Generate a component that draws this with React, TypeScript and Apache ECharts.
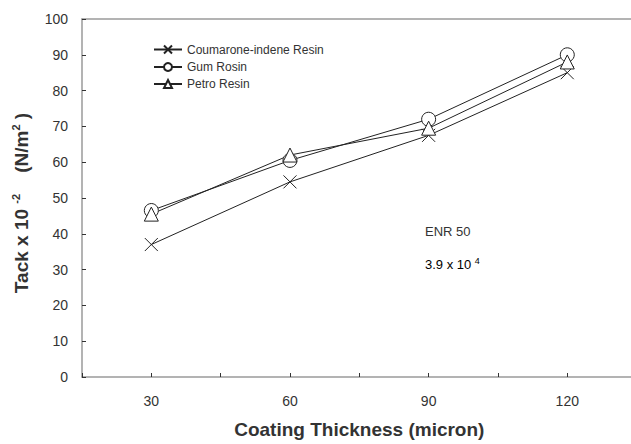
import React, { useEffect, useRef } from "react";
import * as echarts from "echarts";

const thickness = [30, 60, 90, 120];
const coumarone = [37, 54.5, 67.5, 85];
const gumRosin = [46.5, 60.5, 72, 90];
const petroResin = [45.5, 62, 69.5, 88];
const seriesNames = ["Coumarone-indene Resin", "Gum Rosin", "Petro Resin"];
const xLabelValues = [30, 60, 90, 120];

const FONT = "Liberation Sans, Arial, sans-serif";
const LINE = "#222";
const AXIS = "#9a9a9a";
const CHART_W = 700;

export default function App() {
  const ref = useRef<HTMLDivElement>(null);
  useEffect(() => {
    if (!ref.current) return;
    const chart = echarts.init(ref.current, undefined, { renderer: "svg" });
    const mk = (vals: number[]) => thickness.map((t, i) => [t, vals[i]]);
    const common = {
      type: "line",
      lineStyle: { color: LINE, width: 1 },
      itemStyle: { color: "#fff", borderColor: LINE, borderWidth: 1 },
      z: 3,
    };
    chart.setOption({
      animation: false,
      backgroundColor: "#fff",
      textStyle: { fontFamily: FONT },
      grid: {
        left: 82,
        top: 19,
        right: CHART_W - 636.6,
        bottom: 66,
        show: false,
      },
      legend: {
        orient: "vertical",
        left: 148,
        top: 38,
        itemWidth: 28,
        itemHeight: 10,
        itemGap: 5,
        textStyle: { fontSize: 12, color: "#333", fontFamily: FONT },
        data: seriesNames,
      },
      xAxis: [
        {
          type: "value",
          min: 15,
          max: 135,
          interval: 15,
          name: "Coating Thickness (micron)",
          nameLocation: "middle",
          nameGap: 43,
          nameTextStyle: { fontSize: 19, fontWeight: "bold", color: "#333", fontFamily: FONT },
          axisLine: { show: true, lineStyle: { color: AXIS, width: 1.5 } },
          axisTick: { show: true, inside: true, length: 4, lineStyle: { color: "#333" } },
          splitLine: { show: false },
          axisLabel: {
            fontSize: 14,
            color: "#333",
            margin: 17,
            fontFamily: FONT,
            formatter: (v: number) => (xLabelValues.includes(v) ? String(v) : ""),
          },
        },
        {
          type: "value",
          position: "top",
          min: 15,
          max: 135,
          interval: 15,
          axisLine: { show: true, onZero: false, lineStyle: { color: AXIS, width: 1.5 } },
          axisTick: { show: false },
          axisLabel: { show: false },
          splitLine: { show: false },
        },
      ],
      yAxis: {
        type: "value",
        min: 0,
        max: 100,
        interval: 10,
        name: "{b|Tack x 10 }{s|-2}{b|    (N/m}{s|2}{b| )}",
        nameLocation: "middle",
        nameRotate: 90,
        nameGap: 50,
        nameTextStyle: {
          color: "#333",
          padding: [0, 10, 0, 0],
          rich: {
            b: { fontSize: 19, fontWeight: "bold", color: "#333", fontFamily: FONT, lineHeight: 22 },
            s: { fontSize: 11, fontWeight: "bold", color: "#333", fontFamily: FONT, lineHeight: 11, verticalAlign: "top" },
          },
        },
        axisLine: { show: true, lineStyle: { color: AXIS, width: 1.5 } },
        axisTick: { show: true, inside: true, length: 4, lineStyle: { color: "#333" } },
        splitLine: { show: false },
        axisLabel: { fontSize: 14, color: "#333", margin: 14, fontFamily: FONT },
      },
      graphic: [
        {
          type: "text",
          left: 425,
          top: 225,
          style: { text: "ENR 50", fontSize: 13, fill: "#333", fontFamily: FONT },
        },
        {
          type: "text",
          left: 425,
          top: 256,
          style: {
            text: "{n|3.9 x 10 }{s|4}",
            fontFamily: FONT,
            rich: {
              n: { fontSize: 13, color: "#333", fontFamily: FONT, lineHeight: 16 },
              s: { fontSize: 9, color: "#333", fontFamily: FONT, lineHeight: 9, verticalAlign: "top" },
            },
          },
        },
      ],
      series: [
        {
          ...common,
          name: seriesNames[0],
          data: mk(coumarone),
          symbol: "path://M0,0L10,10M10,0L0,10",
          symbolSize: 13,
          itemStyle: { color: "none", borderColor: LINE, borderWidth: 1 },
        },
        {
          ...common,
          name: seriesNames[1],
          data: mk(gumRosin),
          symbol: "circle",
          symbolSize: 14,
        },
        {
          ...common,
          name: seriesNames[2],
          data: mk(petroResin),
          symbol: "triangle",
          symbolSize: 14,
        },
      ],
    });
    return () => chart.dispose();
  }, []);
  return (
    <div style={{ position: "absolute", left: 0, top: 0, width: 631, height: 444, overflow: "hidden", background: "#fff" }}>
      <div ref={ref} style={{ width: CHART_W, height: 444 }} />
    </div>
  );
}
